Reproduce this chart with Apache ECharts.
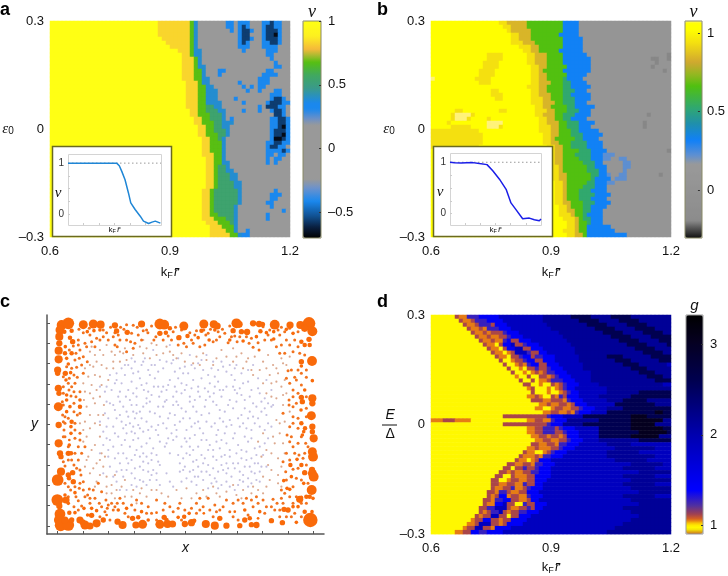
<!DOCTYPE html>
<html><head><meta charset="utf-8">
<style>html,body{margin:0;padding:0;background:#fff}#c{width:728px;height:576px}</style>
<script src="https://cdn.jsdelivr.net/npm/echarts@6/dist/echarts.min.js"></script>
</head><body><div id="c"></div>
<script>
// ---- panel a heat rows: letter + end column ----
const codesA={y:1,o:.83,g:.677,t:.54,b:.39,k:0,n:-.41,d:-.564,x:-.67};
const rowsA=[
"y27 o35 g36 b37 k44 n46 k47 n50 k53 n55 d56 n58 k60","y27 o35 g36 b37 k44 n46 k47 n48 d49 n50 k53 n54 d56 n58 k60",
"y27 o35 g36 b37 k45 n46 k47 n48 d50 n51 k53 n54 d57 n58 k60","y27 o35 g36 b37 k47 n48 d50 k53 n54 d56 x57 n58 k60",
"y28 o35 g36 b37 k47 n48 d50 n51 k53 n54 d57 n58 k60","y29 o35 g36 b37 k47 n48 d49 n50 k53 n55 d57 n58 k60",
"y30 o35 g36 b37 k47 n50 k53 n57 k60","y32 o35 g36 b38 k48 n49 k54 n57 k60","y33 o35 g36 b38 k54 n56 k60",
"y33 o36 g37 b38 k55 n56 k60","y33 o36 g37 b38 k56 n57 k60","y33 o36 g37 b39 k56 n58 k60",
"y33 o36 g38 b39 k42 n44 k54 n56 k60","y33 o36 g38 b39 k42 n43 k53 n57 k60","y33 o36 g38 b40 k52 n55 k60",
"y34 o37 g38 b40 k47 n48 k52 n55 k60","y34 o37 g39 b41 k48 n49 k50 n51 k52 n54 k60",
"y34 o37 g39 b42 k49 n50 k52 n53 k56 n58 k60","y34 o37 g39 b42 k55 n58 k60","y34 o37 g39 b42 k46 n47 k55 n56 d58 n59 k60",
"y34 o37 g39 b43 k48 n49 k54 n55 d58 n60","y34 o37 g39 t41 b43 k52 n53 k54 d57 n59 k60",
"y35 o37 g39 t42 b44 k48 n49 k52 n53 k55 n56 d58 n59 k60","y35 o37 g40 t43 b44 k56 d58 n59 k60",
"y36 o38 g40 t43 b44 k45 n46 k55 n57 d59 n60","y36 o38 g41 t43 b46 k55 n57 d59 n60",
"y37 o39 g41 t43 b45 k55 n57 d58 x59 n60","y37 o39 g41 t44 b45 k55 n56 d59 n60","y37 o39 g42 t44 b45 k55 n56 d58 x59 n60",
"y38 o40 g42 t43 b44 k55 n56 x58 d59 n60","y38 o40 g43 b44 k54 n56 d58 n60","y38 o40 g43 b44 k54 n55 d57 n59 k60",
"y38 o40 g43 b44 k54 n58 d59 n60","y38 o41 g43 b44 k54 n56 k57 n59 k60","y39 o41 g43 b44 k54 n55 k56 n58 k60",
"y39 o41 g43 b45 k54 n55 k56 n57 k60","y39 o41 g42 t44 b45 k60","y39 o41 g42 t44 b46 k60","y39 o41 g42 t45 b47 k60",
"y39 o41 g42 t45 b47 k60","y39 o41 g42 t46 b48 k60","y39 o41 g42 t46 b48 k60","y38 o40 g41 t47 b48 k56 n57 k60",
"y38 o40 g41 t47 b48 k55 n58 k60","y38 o40 g41 t47 b48 k55 n57 k60","y38 o40 g41 t47 b48 k54 n56 k60",
"y38 o40 g41 t46 b47 k55 n56 k60","y38 o40 g41 t46 b47 k58 n59 k60","y38 o40 g42 t46 b47 k54 n55 k60",
"y38 o41 g44 t46 b47 k54 n55 k60","y39 o42 g45 t46 b47 k60","y40 o43 g46 b47 k60","y40 o44 g46 b47 k49 n50 k60","y40 o45 g47 b48 n50 k60"];
// ---- panel b ----
const codesB={p:1.076,y:1.02,e:.938,o:.842,g:.663,t:.526,c:.43,b:.32,l:.223,k:.05,x:-.2};
const rowsB=[
"y17 e19 o24 g33 b37 k60","y18 e20 o24 g33 b37 k60","y19 e20 o25 g33 b37 k60","y20 e22 o25 g32 b37 k60","y20 e22 o25 g33 b38 k60",
"y20 e23 o26 g33 b38 k60","y22 e25 o27 g33 b38 k60","y23 e25 o27 g32 b38 k60","y14 e18 y24 e26 o29 g33 b39 k59 x60",
"y14 e18 y24 e26 o29 g33 b40 k55 x57 k59 x60","y13 e17 y24 e26 o29 g33 b40 k56 x57 k60","y13 e17 y25 e27 o29 g34 b40 k55 x56 k60",
"y12 e16 y25 e27 o28 g33 b40 k58 x59 k60","y12 e16 y25 e27 o29 g34 b39 k60","p1 y11 e15 y25 e27 o29 g33 t34 b38 k60",
"y12 e15 y25 e27 o30 g33 t35 b39 k60","y24 e27 o29 g33 t35 b40 k60","y15 e17 y25 e27 o29 g33 t36 b39 k60",
"y15 e18 y25 e27 o30 g33 t35 b40 k60","y16 e18 y25 e28 o30 g33 t36 b40 k60","y25 e28 o31 g33 t36 b39 k60",
"y26 e28 o30 g34 t36 b41 k60","y6 e8 y17 e19 y26 e29 o31 g34 t37 b40 k60","y5 e6 p10 e11 y26 e28 o31 g33 t36 b40 k54 x55 k60",
"y5 e6 p9 e10 y14 e15 y27 e29 o31 g33 t35 b39 k60","y4 e5 y14 p18 y27 e29 o32 g34 t37 b41 k53 x54 k60",
"y5 e10 y14 p17 e18 y27 e30 o32 g34 t37 b40 k53 x54 k60","e12 y27 e30 o32 g35 t37 b42 k60","e13 y28 e30 o32 g35 t38 b43 k60",
"e13 y28 e30 o31 g36 t38 b42 k60","e13 y28 e30 o32 g35 t39 b43 k60","e12 y29 e31 o33 g35 t39 b43 k60","y29 e31 o33 g37 t40 b44 k59 x60",
"y29 e31 o33 g36 t40 b43 l46 k60","y29 e31 o33 g37 t40 b43 l45 k47 l49 k60","y29 e31 o33 g38 t41 b43 k48 l50 k60",
"y29 e32 o33 g39 t41 b44 k48 l50 k60","y30 e32 o33 g39 t42 b44 k48 l49 k60","y30 e32 o34 g40 t42 b44 l45 k47 l49 k57 x58 k60",
"y30 e32 o34 g40 t41 b45 k46 l49 k60","y31 e33 o34 g39 t41 b44 l46 k60","y31 e33 o34 g38 t41 b44 k60","y31 e33 o34 g37 t40 b44 k60",
"y31 e33 o34 g37 t41 b45 k60","y31 e33 o34 g37 t40 b44 k60","y31 e33 o35 g38 t41 b45 k60","y32 e34 o35 g38 t40 b44 k60",
"y32 e34 o36 g38 t40 b43 k60","y32 e35 o36 g38 t39 b43 k60","y33 e36 o37 g38 t40 b43 k60","y34 e36 o37 g39 t40 b43 k60",
"y34 e36 o37 g39 b45 k60","y33 e36 o37 g39 b46 k60","y34 e36 o38 g39 b49 k60"];
// ---- panel d ----
const codesD={y:.97,a:1.05,r:1.11,p:1.27,B:1.45,m:1.88,n:2.15,s:2.6,x:3.05};
const rowsD=[
"y6 r7 a9 p12 B17 m28 n35 s40 n45 s50 n60","y7 r8 a10 r11 p14 B18 m28 n37 s42 n47 s52 n60","y8 r9 a11 r12 p15 r16 B19 m29 n39 s44 n49 s54 n60",
"y9 r10 a12 r13 a14 p17 B20 m30 n41 s46 n51 s56 n60","y10 r11 a13 r14 a15 r18 p19 B22 m32 n43 s48 n53 s58 n60","y11 r12 a14 r15 a17 r19 p20 B23 m33 n45 s50 n55 s60",
"y12 r13 a15 r16 a18 p19 B20 r22 B25 m34 n47 s52 n57 s60","y13 r14 a16 y17 r18 B20 m21 r23 p24 B27 m35 n49 s54 n59 s60",
"y14 r15 a17 y18 r19 B21 m23 r25 B28 m36 n51 s56 n60","y15 r16 a18 y19 a20 r21 m24 p25 r27 B29 m36 n53 s58 n60",
"y16 r17 a19 y20 r22 p23 B25 r26 p28 B31 m37 n44 s48 n55 s60","y17 r18 y20 a21 r23 p24 B26 r28 B31 m37 n46 s50 n57 s60",
"y18 r19 y21 a22 r23 a24 p25 B27 r29 B32 m38 n48 s52 n59 m60","y19 r20 y22 a23 y24 r26 p27 r29 p30 B33 m38 n50 s54 n60",
"y20 r21 y23 a24 y25 a26 r27 a28 r29 p31 B34 m40 n52 s56 n60","y21 a22 y24 r25 y27 r29 a30 r31 p32 B35 m40 n54 s58 n60",
"y22 r23 y25 r26 y27 a29 r30 p33 B36 m40 n56 s60","y23 r25 y27 a28 y30 r31 a32 r33 p34 B37 m42 n58 m60",
"y24 a25 r26 y29 a30 y31 a32 r33 p34 B36 m44 n60","y25 r26 y29 a30 y32 a33 r34 p35 B37 m44 n52 s60",
"y24 a26 r27 a28 y30 r31 a32 p33 r34 B37 m42 n50 s60","y25 r28 a30 r33 a34 p35 B38 m44 n48 s54 n60",
"y27 a29 r30 a32 r34 a35 r36 B39 m46 s56 n60","y26 a28 y30 a31 r33 a35 r37 p38 B41 m44 n48 s60",
"y28 a30 r32 a34 r35 a36 p37 B40 m44 s56 x58 s60","y18 r29 p30 B33 m38 s50 x54 s60",
"a3 r6 a10 y24 a26 r28 a30 p31 B34 n42 s50 x58 n60","y18 r29 p30 B33 n38 s50 x56 n60",
"y24 a26 r28 p31 r32 p33 B36 m42 s50 x58 s60","y24 a26 r28 p31 r33 p34 B37 m42 s52 x59 s60","y25 a27 r29 a30 r32 a33 r34 B37 m42 s50 x57 n60",
"y26 a28 r30 a32 r34 p35 B38 m42 n52 s60","y25 r27 a29 r31 a32 p34 B37 m44 n50 m60","y24 a26 r27 a30 r32 p33 B36 m46 n56 m60",
"y23 r24 a26 y28 a29 r30 p31 B34 m44 n52 m60","y22 r23 a26 r27 a28 p30 B33 m44 n56 m60","y21 r22 a24 y25 a26 r27 B30 m46 n54 m60",
"y19 r21 a23 r25 a26 p28 B31 m50 n58 m60","y18 r20 y21 r23 p24 r26 p27 B30 m48 n56 m60","y17 r19 a20 r21 a23 r25 p27 B30 m52 n60",
"y16 r18 y20 r21 a24 r26 B30 m48 n56 m60","y15 r17 y19 a20 r22 a24 r26 B29 m50 n60","y15 r17 a19 r21 a23 p24 r26 B28 m48 n56 m60",
"y15 r16 a18 r20 p21 a23 r24 p25 B28 m50 n60","y14 r16 a17 p19 r20 a22 r24 B27 m52 n60","y14 r15 a16 r17 B19 a20 r22 a24 p25 B28 m48 n56 m60",
"y13 r15 a16 p18 B20 r22 a24 r25 B27 m50 n60","y13 r14 a16 B18 m19 r21 y23 p24 r26 B29 m52 n60","y12 r14 p16 m19 r20 a22 r24 p25 r26 B28 m48 n60",
"y12 r13 a14 r15 p17 m18 r19 a20 r22 p24 B27 m50 n60","y11 r12 a13 r15 m17 r19 y20 r22 B25 m52 n60","y10 a11 r13 B15 r17 a18 r20 B24 m50 n60",
"y9 a11 r12 m15 r17 a18 r19 B23 m48 n60","y8 a9 r11 m13 r15 a16 B20 m46 n60","y6 a8 r10 B12 p14 B18 m44 n60"];
// ---- inset curves ----
const insetXA=[.6,.7,.8,.914,.931,.947,.968,.99,1.005,1.033,1.066,1.087,1.12,1.142,1.163,1.196];
const insetNuA=[1,1,1,1,.948,.837,.673,.412,.216,.085,-.046,-.144,-.19,-.163,-.144,-.183];
const insetXB=[.6,.63,.673,.71,.75,.794,.844,.882,.926,.97,1.002,1.035,1.079,1.123,1.156,1.189,1.2];
const insetNuB=[1,.99,.987,.99,.993,.974,.954,.836,.671,.474,.21,.079,-.099,-.086,-.118,-.138,-.105];
const refX=[.6,1.2], refNu=[1,1];
// ---- panel c: sites, x y weight ----
const dotsLarge=[[185,105,11],[205,100,13],[180,120,10],[178,140,9],[250,104,10],[280,102,10],[302,104,9],[345,106,7],[425,102,8],[480,102,12],[493,104,11],[552,108,10],[612,102,10],[642,103,9],[652,108,8],[710,100,11],[718,103,8],[760,100,7],[778,102,7],[788,103,6],[825,104,11],[871,105,8],[902,105,9],[928,100,14],[938,124,11],[915,115,8],
[193,125,5],[215,122,5],[262,125,4],[282,122,4],[300,120,4],[350,123,6],[382,127,6],[480,130,6],[498,128,5],[510,115,5],[605,122,5],[645,120,4],[700,122,6],[725,125,6],[742,126,7],[782,124,5],[800,128,4],[563,138,5],[537,143,6],[595,143,4],[628,150,4],[690,150,4],[730,153,4],[770,140,4],[822,125,4],[822,147,4],[860,118,4],[880,130,4],[905,155,5],[915,165,5],[928,148,6],[930,165,5],
[218,155,6],[210,143,5],[178,160,7],[176,182,9],[176,208,9],[173,240,8],[173,250,6],[175,295,8],[177,310,6],[175,350,10],[176,405,7],[176,460,9],[180,490,7],[183,500,6],[205,490,6],[213,490,5],[208,465,4],
[196,170,4],[195,190,5],[200,205,4],[215,190,5],[205,222,4],[196,250,6],[212,248,4],[198,270,4],[200,315,4],[200,330,4],[210,350,4],[200,365,4],[240,350,5],[240,330,4],[215,395,5],[213,410,4],[213,430,4],[208,450,3],
[937,213,11],[905,215,6],[905,228,4],[938,272,4],[915,300,4],[905,322,6],[908,335,6],[938,325,9],[938,340,7],[935,377,10],[904,360,4],[905,400,5],[916,415,5],[938,410,7],[938,425,6],[942,445,9],[908,435,4],[912,425,4],[938,485,10],[940,500,11],[938,550,10],[942,560,11],[937,540,7],[936,600,11],[930,620,5],[940,625,4],[915,548,6],[912,580,4],[920,620,5],[900,628,8],[872,525,5],[892,508,4],[905,525,5],[875,560,4],[870,598,4],[853,658,6],[865,660,6],[895,650,4],[915,665,5],[937,665,4],[932,690,16],[852,572,4],[862,595,4],[905,622,4],[880,650,4],
[173,570,13],[183,545,9],[218,548,6],[205,555,6],[220,575,6],[207,565,5],[172,630,13],[178,648,7],[198,630,8],[195,615,4],[225,608,4],[205,640,4],[180,672,12],[178,690,12],[182,706,13],[205,705,13],[215,690,6],[195,690,8],[208,668,5],[225,668,4],[240,690,8],[248,697,7],[255,705,10],[270,708,8],[275,676,6],[263,675,4],[290,700,9],[310,690,6],[252,655,4],[275,655,4],[290,662,4],[320,675,3],
[353,695,7],[368,705,9],[398,685,6],[408,705,8],[428,703,10],[415,682,5],[425,665,4],[380,655,4],[355,660,4],[445,690,4],[480,703,10],[503,702,9],[518,702,8],[493,682,6],[500,690,5],[470,668,3],[535,682,4],[553,680,5],[555,702,7],[575,698,8],[583,692,5],[568,670,4],[618,702,9],[645,707,9],[660,685,6],[680,707,7],[612,670,3],[720,707,6],[735,690,6],[750,685,5],[755,704,6],[770,705,7],[775,685,3],[705,665,3],[815,692,6],[848,698,6],[890,697,4],[780,665,4],[735,660,4]];
const dotsMedium=[[237,118],[250,128],[268,115],[310,120],[332,112],[362,112],[380,104],[400,106],[412,112],[430,122],[444,128],[455,108],[468,140],[462,150],[440,120],[505,138],[520,125],[527,112],[540,140],[552,160],[570,128],[575,150],[590,122],[612,120],[618,135],[632,118],[640,155],[655,125],[668,118],[690,108],[695,140],[685,158],[712,155],[748,160],[760,172],[775,158],[778,180],[790,110],[810,120],[835,120],[845,112],[855,125],[870,115],[885,150],[895,125],[860,150],[845,165],[830,170],[815,150],[805,135],[740,140],[705,138],[650,150],[615,165],[600,170],[580,160],[560,170],[535,165],[290,145],[275,155],[260,170],[240,180],[238,205],[255,160],[310,140],[320,128],[340,140],[355,135],[380,150],[392,155],[405,160],[360,150],[400,175],[380,185],[352,170],[300,150],[285,170],[250,200],[262,215],[225,210],[230,232],[220,168],[208,180],
[222,255],[232,262],[225,280],[190,290],[215,290],[190,310],[213,318],[187,335],[207,300],[240,305],[228,320],[222,340],[195,380],[188,375],[232,375],[195,400],[192,420],[190,440],[225,420],[240,430],[235,470],[205,510],[195,528],[222,525],[235,510],[245,490],[230,535],[243,555],[240,580],[238,595],[205,590],[212,600],[250,600],[268,597],[263,615],[228,620],[235,632],[245,648],[222,650],[295,580],[318,630],[298,640],[322,655],[345,650],[352,640],
[875,240],[865,242],[860,265],[885,262],[890,270],[905,285],[880,300],[868,330],[890,340],[868,345],[850,370],[880,380],[880,400],[870,410],[895,385],[895,415],[862,435],[870,455],[880,470],[895,460],[898,495],[910,505],[885,490],[860,490],[850,515],[858,545],[880,538],[895,535],[890,565],[880,590],[860,570],[905,570],[855,610],[845,625],[832,640],[825,660],[840,680],[860,680],[875,680],[905,680],[850,640],[890,620],[820,628],[800,650],[790,630],[775,640],[760,650],[745,675],[715,690],[700,680],[690,665],[650,665],[640,680],[625,625],[600,625],[590,640],[575,655],[555,660],[520,665],[510,650],[495,640],[470,630],[445,650],[425,640],[405,660],[385,680],[330,690],[340,660],[300,680],[315,665],[270,640],[740,625],[715,630],[700,640],[670,650],[610,650],[545,690],[470,690],[660,660],
[345,128],[372,118],[395,130],[415,135],[425,150],[490,150],[515,150],[545,120],[585,135],[625,130],[660,140],[675,130],[720,140],[755,145],[795,150],[840,135],[870,165],[895,170],[880,185],[855,190],[900,190],[915,195],[840,190],[325,150],[345,165],[270,135],[235,150],[235,165],[228,190],[200,230],[215,235],[245,225],[250,250],
[190,260],[208,265],[205,280],[222,305],[190,345],[205,385],[190,395],[222,365],[240,370],[225,400],[195,440],[225,445],[205,470],[190,515],[240,450],[255,470],[225,490],[215,510],[240,540],[195,580],[225,590],[255,620],[250,575],[280,600],[285,625],[305,605],[205,620],[235,660],
[920,240],[905,250],[920,262],[895,240],[870,280],[895,310],[920,320],[880,320],[920,355],[920,380],[880,350],[905,440],[918,460],[925,470],[875,440],[915,490],[870,510],[920,525],[925,580],[870,620],[880,640],[845,600],[920,640],[905,640],[885,670],[840,660],[815,650],[795,670],[770,620],[755,630],[730,640],[680,630],[645,645],[630,660],[600,660],[590,670],[540,640],[535,655],[490,660],[455,670],[440,670],[410,630],[370,640],[360,625],[335,640],[395,645],[375,670],[325,645],[305,650],[270,625]];
const dotsFaint=[[270,185],[285,195],[300,180],[320,165],[335,185],[360,185],[370,190],[430,150],[455,160],[470,195],[490,190],[510,185],[530,205],[555,215],[600,225],[620,210],[650,205],[680,200],[700,215],[730,235],[755,240],[790,215],[820,225],[830,235],[850,220],[870,200],[255,235],[265,260],[285,255],[300,260],[320,235],[340,215],[250,280],[270,310],[252,330],[285,340],[300,320],[312,345],[270,375],[255,395],[285,400],[260,440],[250,455],[275,480],[290,520],[300,555],[270,550],[255,530],[320,560],[335,585],[350,600],[375,570],[395,620],[320,610],[440,620],[505,620],[530,600],[560,595],[610,600],[640,590],[680,605],[700,585],[730,600],[760,590],[790,560],[805,525],[815,490],[825,460],[840,400],[830,390],[850,345],[830,325],[815,320],[800,310],[860,310],[760,255],[790,280],[845,290],[835,250],[775,455],[790,430],[820,440],[850,460],[835,505],[815,540],[835,580],[275,170],[310,195],[345,195],[375,175],[430,190],[450,205],[580,220],[640,225],[710,200],[740,215],[800,235],[275,285],[290,300],[325,270],[260,350],[295,375],[250,420],[300,440],[265,500],[305,490],[310,530],[290,575],[345,555],[365,590],[420,610],[470,600],[590,610],[660,620],[710,615],[775,600],[810,570],[800,480],[785,500],
[290,215],[305,225],[270,225],[340,235],[360,215],[380,210],[470,165],[500,170],[545,190],[590,200],[665,180],[700,175],[725,190],[765,200],[805,195],[845,205],[860,225],[810,255],[855,270],[815,280],[850,315],[870,365],[855,395],[840,430],[855,490],[845,530],[835,555],[845,590],[800,590],[790,610],[755,610],[725,625],[650,610],[620,620],[575,625],[545,625],[485,610],[455,600],[410,640],[375,620],[345,625],[320,590],[285,590],[280,535],[260,510],[285,465],[270,415],[240,400],[280,325],[255,305],[305,285],[280,230],[300,405],[310,375],[315,500],[300,510],[335,610],[400,600],[425,595],[830,275],[780,240],[745,205],[610,190],[520,195],[420,170],[440,175],[400,195]];
const dotsCentre=[[405,215],[425,225],[445,240],[465,225],[490,235],[515,220],[540,235],[565,250],[585,235],[610,240],[635,235],[655,240],[680,245],[705,235],[725,250],[350,270],[375,255],[400,250],[420,265],[440,280],[465,265],[490,290],[510,270],[535,265],[560,285],[580,270],[605,265],[630,280],[655,275],[680,290],[705,270],[730,280],[755,300],[780,310],[335,300],[355,320],[385,300],[410,320],[432,300],[455,315],[478,320],[500,300],[520,320],[545,310],[570,320],[595,305],[618,330],[642,310],[665,320],[690,330],[712,310],[735,330],[760,340],[785,335],[330,340],[345,360],[370,350],[395,345],[420,365],[440,340],[465,370],[490,350],[510,370],[535,345],[558,365],[580,350],[605,375],[628,370],[650,345],[675,365],[700,355],[725,375],[750,365],[775,385],[800,375],[815,350],[325,385],[340,410],[365,395],[385,380],[405,385],[415,405],[440,395],[468,420],[490,400],[515,430],[540,395],[560,420],[585,400],[610,430],[635,410],[660,385],[680,410],[705,430],[730,400],[755,420],[780,410],[805,400],[310,425],[330,450],[355,440],[380,430],[400,450],[425,470],[450,445],[475,435],[495,470],[520,450],[545,470],[570,445],[595,470],[620,450],[640,480],[665,450],[690,480],[715,465],[745,455],[765,475],[795,460],[310,465],[300,490],[325,480],[345,505],[370,490],[395,510],[420,500],[445,520],[470,495],[540,520],[560,490],[580,515],[605,495],[625,525],[650,510],[675,495],[700,520],[725,505],[750,530],[775,520],[330,530],[350,545],[380,540],[405,565],[430,540],[455,555],[480,525],[570,545],[595,560],[620,545],[645,565],[670,540],[695,560],[720,545],[745,565],[765,550],[350,575],[380,600],[410,590],[440,585],[470,570],[510,575],[560,565],[590,585],[655,595],[680,575],[705,600],[730,575],[385,225],[365,235],[535,205],[570,195],[665,215],[690,225],[760,225],[460,180],[510,165],[480,210],[620,195],[435,205],[395,205],[330,255],[415,245],[450,255],[475,245],[525,245],[555,230],[595,220],[625,255],[645,260],[695,255],[365,280],[395,275],[475,290],[525,290],[545,280],[595,290],[615,295],[670,300],[720,295],[745,275],[410,295],[440,325],[500,330],[530,335],[585,330],[630,320],[705,300],[770,350],[795,355],[390,330],[410,345],[360,375],[400,410],[410,370],[425,385],[450,365],[480,380],[505,385],[525,375],[570,385],[595,395],[645,400],[690,390],[720,410],[745,385],[390,400],[345,430],[370,415],[405,430],[430,425],[455,410],[505,445],[530,420],[555,445],[585,435],[650,435],[675,430],[735,440],[320,410],[365,465],[390,470],[415,445],[460,475],[510,490],[535,495],[570,470],[630,465],[660,475],[710,490],[740,485],[770,495],[385,520],[360,520],[440,500],[455,490],[595,530],[640,535],[665,525],[690,500],[755,505],[785,530],[405,535],[430,515],[550,540],[610,520],[680,520],[735,530],[370,560],[420,570],[460,540],[540,545],[575,575],[610,570],[635,580],[665,585],[720,570],[755,580],[780,575],[500,550],
[300,290],[315,305],[345,280],[360,305],[378,320],[400,310],[425,285],[445,305],[462,290],[485,305],[505,285],[530,305],[555,300],[575,295],[600,320],[625,305],[645,290],[660,300],[700,290],[725,315],[750,320],[775,295],[795,325],[820,345],
[320,335],[340,345],[360,335],[380,365],[400,365],[430,350],[450,335],[475,350],[495,335],[520,345],[545,355],[570,335],[590,365],[615,350],[640,335],[660,360],[685,345],[710,335],[735,355],[760,380],[785,365],[805,340],
[300,395],[315,370],[350,385],[378,405],[395,425],[420,415],[445,420],[475,405],[500,415],[525,405],[550,385],[575,410],[600,415],[620,395],[655,420],[670,395],[695,405],[715,385],[740,415],[765,400],[795,420],[815,410],
[320,445],[340,470],[375,450],[410,480],[440,460],[480,455],[500,460],[530,440],[560,455],[580,480],[605,450],[625,480],[650,455],[680,460],[700,445],[725,480],[755,445],[780,470],[805,445],
[325,500],[355,490],[380,505],[405,495],[430,490],[455,510],[475,515],[550,505],[570,495],[590,510],[615,505],[640,500],[665,500],[685,535],[715,520],[740,510],[765,520],[790,495],
[310,550],[340,560],[365,540],[395,550],[420,530],[445,545],[470,550],[555,530],[580,540],[605,545],[630,555],[655,545],[680,550],[705,535],[730,555],[755,545],[780,545],[800,530],
[360,600],[395,585],[430,575],[450,570],[480,585],[520,590],[545,575],[585,560],[625,595],[650,575],[690,590],[715,585],[745,590],[770,570],
[395,235],[430,215],[455,225],[500,215],[520,210],[550,250],[575,225],[605,210],[640,215],[670,230],[710,225],[745,240],[775,265],[800,270],[815,300],[375,225],[350,250],[320,290]];
// ---- tick labels ----
const mainXTicks=[.6,.9,1.2], mainYTicks=[-.3,0,.3];
const cbarTicksA=[-.5,0,.5,1], cbarTicksB=[0,.5,1], cbarTicksD=[1,2,3];
const ticksCX=[172,249,326,403,480,557,634,711,788,865,942];
const ticksCY=[99,160,221,282,343,403,464,525,586,647,708];

const SANS='"Liberation Sans"', SERIF='"Liberation Serif"';
function expand(rows,codes,cols){
  const out=[];
  rows.forEach((row,r)=>{let c=0;row.split(' ').forEach(t=>{const end=Math.min(+t.slice(1),cols),v=codes[t[0]];
    for(;c<end;c++)out.push([c,r,v]);});
    for(;c<cols;c++)out.push([c,r,codes[row.slice(-3,-2)]]);});
  return out;
}
function ramp(stops){
  const list=[],n=170;
  for(let i=n;i>=0;i--){const f=i/n;let j=0;while(j<stops.length-2&&f>stops[j+1][0])j++;
    const a=stops[j],b=stops[j+1];
    list.push(echarts.color.lerp(Math.min(1,Math.max(0,(f-a[0])/(b[0]-a[0]))),[a[1],b[1]]));}
  return list;
}
const cmapA=ramp([[0,'#ffff14'],[.07,'#fdf020'],[.13,'#f5b93a'],[.16,'#a5bb30'],[.19,'#55c010'],[.25,'#40a860'],[.31,'#3a9a8a'],[.38,'#1a88ee'],[.405,'#1a88ee'],[.45,'#6a90c8'],[.48,'#999999'],[.73,'#999999'],[.77,'#6c92cc'],[.83,'#1a88ee'],[.9,'#105090'],[.95,'#0a2040'],[1,'#000000']]);
const cmapB=ramp([[0,'#fff27a'],[.008,'#ffff00'],[.04,'#ffff00'],[.1,'#f4e010'],[.19,'#d0a830'],[.25,'#90b820'],[.3,'#50c010'],[.4,'#30a870'],[.47,'#2090a8'],[.55,'#1080f8'],[.62,'#6090d0'],[.66,'#999999'],[.92,'#8c8c8c'],[1,'#111111']]);
const cmapD=ramp([[0,'#000000'],[.12,'#050020'],[.3,'#000050'],[.55,'#0000b0'],[.8,'#0000ff'],[.87,'#5030a0'],[.91,'#a04050'],[.935,'#e06818'],[.955,'#ffe000'],[.975,'#ffff00'],[1,'#c87020']]);

const grid=[],xAxis=[],yAxis=[],series=[],visualMap=[],graphic=[];
const dash=v=>String(v).replace('-','\u2013');
const kfRich=s=>({k:{fontFamily:SANS,fontSize:s,color:'#111'},f:{fontFamily:SANS,fontSize:s*.7,color:'#111',padding:[s*.45,1,0,0]},r:{fontFamily:SERIF,fontStyle:'italic',fontSize:s*1.08,color:'#111'}});
const KF='{k|k}{f|F}{r|r\u0304}';
function addGrid(g){grid.push(g);return grid.length-1;}
function heat(left,top,w,h,cbH,rows,codes,yNameOpt,xGap,vm,cbLeft,cbW,cbTicks,symbol,frame){
  const gi=addGrid({left,top,width:w,height:h});
  const cats=Array.from({length:60},(_,i)=>i);
  const rowCats=rows.map((_,i)=>i);
  xAxis.push({gridIndex:gi,type:'category',data:cats,show:false}); const xc=xAxis.length-1;
  yAxis.push({gridIndex:gi,type:'category',data:rowCats,inverse:true,show:false}); const yc=yAxis.length-1;
  xAxis.push({gridIndex:gi,type:'value',min:mainXTicks[0],max:mainXTicks[2],interval:.3,position:'bottom',
    axisLine:{show:false,onZero:false},axisTick:{show:false},splitLine:{show:false},
    axisLabel:{fontFamily:SANS,fontSize:13,color:'#111',margin:8},
    name:KF,nameLocation:'middle',nameGap:xGap,nameTextStyle:{rich:kfRich(13)}});
  yAxis.push(Object.assign({gridIndex:gi,type:'value',min:mainYTicks[0],max:mainYTicks[2],interval:.3,position:'left',
    axisLine:{show:false,onZero:false},axisTick:{show:false},splitLine:{show:false},
    axisLabel:{fontFamily:SANS,fontSize:13,color:'#111',margin:6,formatter:dash},
    nameLocation:'middle',nameRotate:0},yNameOpt));
  series.push({type:'heatmap',xAxisIndex:xc,yAxisIndex:yc,data:expand(rows,codes,60),progressive:0,
    itemStyle:{borderWidth:0},emphasis:{disabled:true},silent:true});
  const sIdx=series.length-1;
  visualMap.push({type:'continuous',seriesIndex:sIdx,dimension:2,min:vm[0],max:vm[1],left:cbLeft,top,itemWidth:cbW,itemHeight:cbH,
    padding:0,calculable:false,realtime:false,hoverLink:false,text:null,showLabel:false,inRange:{color:vm[2]},z:4,textStyle:{fontSize:0}});
  const cg=addGrid({left:cbLeft,top,width:cbW,height:cbH});
  xAxis.push({gridIndex:cg,type:'value',min:0,max:1,show:false});
  yAxis.push({gridIndex:cg,type:'value',min:vm[0],max:vm[1],position:'right',z:6,
    axisLine:{show:false,onZero:false},splitLine:{show:false},
    axisTick:{show:true,inside:true,length:2,lineStyle:{color:'#333'},customValues:cbTicks},
    axisLabel:{fontFamily:SANS,fontSize:13,color:'#111',margin:7,customValues:cbTicks,formatter:dash}});
  graphic.push({type:'rect',z:6,shape:{x:cbLeft,y:top,width:cbW,height:cbH},style:{fill:'none',stroke:frame,lineWidth:1}});
  graphic.push({type:'text',z:6,x:cbLeft+cbW/2,y:top-9,style:{text:symbol,font:symbol==='g'?'italic 15px '+SANS:'italic 18px '+SERIF,fill:'#111',textAlign:'center',textVerticalAlign:'middle'}});
}
function inset(box,left,top,w,h,xs,ys,color){
  graphic.push({type:'rect',z:3,shape:box,style:{fill:'#fff',stroke:'#6a6a1e',lineWidth:1.5}});
  graphic.push({type:'rect',z:4,shape:{x:left+.5,y:top+.5,width:w,height:h},style:{fill:'none',stroke:'#d4d4d4',lineWidth:1}});
  graphic.push({type:'text',z:6,x:left-10,y:top+39,style:{text:'\u03bd',font:'italic 15px '+SERIF,fill:'#111',textAlign:'center',textVerticalAlign:'middle'}});
  const gi=addGrid({left,top,width:w,height:h});
  xAxis.push({gridIndex:gi,type:'value',min:.6,max:1.2,z:5,position:'bottom',splitLine:{show:false},axisLine:{show:false,onZero:false},
    axisTick:{show:true,inside:true,length:2,lineStyle:{color:'#ccc'},customValues:[.7,.8,.9,1,1.1]},axisLabel:{show:false},
    name:KF,nameLocation:'middle',nameGap:0,nameTextStyle:{rich:kfRich(8)}});
  yAxis.push({gridIndex:gi,type:'value',min:-.22,max:1.18,z:5,position:'left',splitLine:{show:false},axisLine:{show:false,onZero:false},
    axisTick:{show:true,inside:true,length:2,lineStyle:{color:'#ccc'},customValues:[0,.25,.5,.75,1]},
    axisLabel:{fontFamily:SANS,fontSize:10,color:'#333',margin:4,customValues:[0,1]}});
  const xi=xAxis.length-1,yi=yAxis.length-1;
  series.push({type:'line',xAxisIndex:xi,yAxisIndex:yi,z:5,showSymbol:false,silent:true,data:refX.map((x,i)=>[x,refNu[i]]),
    lineStyle:{color:'#999',width:1,type:[1.5,2.5]}});
  series.push({type:'line',xAxisIndex:xi,yAxisIndex:yi,z:5,showSymbol:false,silent:true,data:xs.map((x,i)=>[x,ys[i]]),
    lineStyle:{color,width:1.5}});
}
const eps={name:'{e|\u03b5}{z|0}',nameGap:28,nameTextStyle:{rich:{e:{fontFamily:SERIF,fontStyle:'italic',fontSize:15,color:'#111'},z:{fontFamily:SANS,fontSize:10,color:'#111',padding:[5,0,0,0]}}}};
heat(50,21,240,216,217,rowsA,codesA,eps,28,[-.7,1,cmapA],303,18,cbarTicksA,'\u03bd','#8a8a66');
inset({x:52.5,y:146.5,width:119,height:90},68,154,93,71,insetXA,insetNuA,'#1f86d6');
heat(431,21,240,216,217,rowsB,codesB,eps,28,[-.306,1.076,cmapB],685,17,cbarTicksB,'\u03bd','#8a8a66');
inset({x:433.5,y:146.5,width:119,height:90},450,153,91,72,insetXB,insetNuB,'#1a1ee8');
heat(431,315,240,220,219,rowsD,codesD,{name:'{e|E}\n{d|\u0394}',nameGap:29,nameTextStyle:{lineHeight:19,rich:{e:{fontFamily:SANS,fontStyle:'italic',fontSize:14,color:'#111',lineHeight:19},d:{fontFamily:SANS,fontSize:14,color:'#111',lineHeight:19}}}},26,[.9,3.33,cmapD],686,17,cbarTicksD,'g','#999');
graphic.push({type:'line',z:6,shape:{x1:382,y1:425,x2:397,y2:425},style:{stroke:'#111',lineWidth:1}});
// panel c
const gc=addGrid({left:47,top:315,width:277,height:219});
const axC={lineStyle:{color:'#555',width:1.5}};
xAxis.push({gridIndex:gc,type:'value',min:141,max:973,position:'bottom',splitLine:{show:false},axisLine:Object.assign({onZero:false},axC),
  axisTick:{show:true,inside:true,length:3,lineStyle:{color:'#555'},customValues:ticksCX},axisLabel:{show:false},
  name:'x',nameLocation:'middle',nameGap:7,nameTextStyle:{fontFamily:SANS,fontStyle:'italic',fontSize:14,color:'#111'}});
const xci=xAxis.length-1;
yAxis.push({gridIndex:gc,type:'value',min:75,max:732,inverse:true,position:'left',splitLine:{show:false},axisLine:Object.assign({onZero:false},axC),
  axisTick:{show:true,inside:true,length:3,lineStyle:{color:'#555'},customValues:ticksCY},axisLabel:{show:false},
  name:'y',nameLocation:'middle',nameRotate:0,nameGap:9,nameTextStyle:{fontFamily:SANS,fontStyle:'italic',fontSize:14,color:'#111'}});
const yci=yAxis.length-1;
const sc=(data,size,color)=>({type:'scatter',xAxisIndex:xci,yAxisIndex:yci,data,symbolSize:size,silent:true,itemStyle:{color,opacity:1},large:false});
series.push(sc(dotsCentre,2.2,'#c3bfe0'),sc(dotsFaint,2.2,'#dca88e'),sc(dotsMedium,3,'#f2721e'),sc(dotsLarge,d=>d[2]*.9,'#f96a0a'));
// panel letters
[['a',0,10],['b',377,10],['c',0,302],['d',377,302]].forEach(([t,x,y])=>graphic.push({type:'text',z:6,x,y,style:{text:t,font:'bold 18px '+SANS,fill:'#000',textVerticalAlign:'middle'}}));

const chart=echarts.init(document.getElementById('c'),null,{renderer:'canvas'});
chart.setOption({animation:false,backgroundColor:'#fff',grid,xAxis,yAxis,series,visualMap,graphic});
</script></body></html>
